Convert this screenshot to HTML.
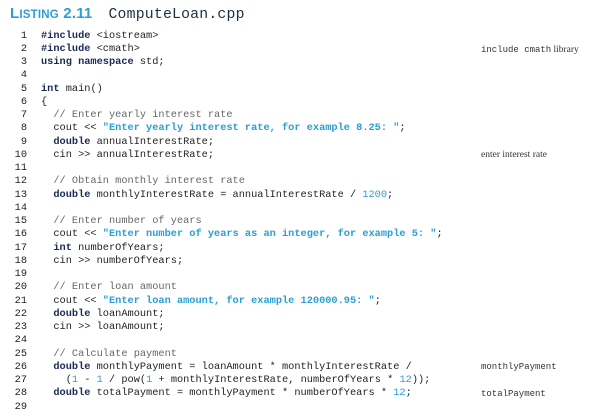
<!DOCTYPE html>
<html><head><meta charset="utf-8"><style>
html,body{margin:0;padding:0;background:#fff;}
body{width:602px;height:418px;position:relative;overflow:hidden;}
.t{position:absolute;left:10px;top:5px;font-family:"Liberation Sans",sans-serif;font-weight:bold;color:#2a9fd6;font-size:15px;letter-spacing:0.2px;white-space:nowrap;}
.t small{font-size:11.5px;}
.t .f{font-family:"Liberation Mono",monospace;font-weight:normal;color:#1e2f40;font-size:14.8px;margin-left:16px;}
.l{position:absolute;left:0;height:13px;line-height:13px;font-family:"Liberation Mono",monospace;font-size:10.3px;color:#222;white-space:pre;}
.n{display:inline-block;width:27px;text-align:right;margin-right:14px;color:#222;}
.k{font-weight:bold;color:#1b2a55;}
.s{font-weight:bold;color:#2a9fd6;}
.c{color:#666;}
.d{color:#2a9fd6;}
.a{position:absolute;left:481px;font-size:9px;color:#333;white-space:nowrap;line-height:13px;}
.am{font-family:"Liberation Mono",monospace;}
.as{font-family:"Liberation Serif",serif;font-size:9.5px;}
</style></head><body>
<div class="t">L<small>ISTING</small> 2.11<span class="f">ComputeLoan.cpp</span></div>

<div class="l" style="top:29.5px"><span class="n">1</span><span class="k">#include</span> &lt;iostream&gt;</div>
<div class="l" style="top:42.75px"><span class="n">2</span><span class="k">#include</span> &lt;cmath&gt;</div>
<div class="l" style="top:56px"><span class="n">3</span><span class="k">using namespace</span> std;</div>
<div class="l" style="top:69.25px"><span class="n">4</span></div>
<div class="l" style="top:82.5px"><span class="n">5</span><span class="k">int</span> main()</div>
<div class="l" style="top:95.75px"><span class="n">6</span>{</div>
<div class="l" style="top:109px"><span class="n">7</span>  <span class="c">// Enter yearly interest rate</span></div>
<div class="l" style="top:122.25px"><span class="n">8</span>  cout &lt;&lt; <span class="s">"Enter yearly interest rate, for example 8.25: "</span>;</div>
<div class="l" style="top:135.5px"><span class="n">9</span>  <span class="k">double</span> annualInterestRate;</div>
<div class="l" style="top:148.75px"><span class="n">10</span>  cin &gt;&gt; annualInterestRate;</div>
<div class="l" style="top:162px"><span class="n">11</span></div>
<div class="l" style="top:175.25px"><span class="n">12</span>  <span class="c">// Obtain monthly interest rate</span></div>
<div class="l" style="top:188.5px"><span class="n">13</span>  <span class="k">double</span> monthlyInterestRate = annualInterestRate / <span class="d">1200</span>;</div>
<div class="l" style="top:201.75px"><span class="n">14</span></div>
<div class="l" style="top:215px"><span class="n">15</span>  <span class="c">// Enter number of years</span></div>
<div class="l" style="top:228.25px"><span class="n">16</span>  cout &lt;&lt; <span class="s">"Enter number of years as an integer, for example 5: "</span>;</div>
<div class="l" style="top:241.5px"><span class="n">17</span>  <span class="k">int</span> numberOfYears;</div>
<div class="l" style="top:254.75px"><span class="n">18</span>  cin &gt;&gt; numberOfYears;</div>
<div class="l" style="top:268px"><span class="n">19</span></div>
<div class="l" style="top:281.25px"><span class="n">20</span>  <span class="c">// Enter loan amount</span></div>
<div class="l" style="top:294.5px"><span class="n">21</span>  cout &lt;&lt; <span class="s">"Enter loan amount, for example 120000.95: "</span>;</div>
<div class="l" style="top:307.75px"><span class="n">22</span>  <span class="k">double</span> loanAmount;</div>
<div class="l" style="top:321px"><span class="n">23</span>  cin &gt;&gt; loanAmount;</div>
<div class="l" style="top:334.25px"><span class="n">24</span></div>
<div class="l" style="top:347.5px"><span class="n">25</span>  <span class="c">// Calculate payment</span></div>
<div class="l" style="top:360.75px"><span class="n">26</span>  <span class="k">double</span> monthlyPayment = loanAmount * monthlyInterestRate /</div>
<div class="l" style="top:374px"><span class="n">27</span>    (<span class="d">1</span> - <span class="d">1</span> / pow(<span class="d">1</span> + monthlyInterestRate, numberOfYears * <span class="d">12</span>));</div>
<div class="l" style="top:387.25px"><span class="n">28</span>  <span class="k">double</span> totalPayment = monthlyPayment * numberOfYears * <span class="d">12</span>;</div>
<div class="l" style="top:400.5px"><span class="n">29</span></div>

<div class="a" style="top:43px"><span class="am">include cmath</span> <span class="as">library</span></div>
<div class="a as" style="top:149px">enter interest rate</div>
<div class="a am" style="top:361px">monthlyPayment</div>
<div class="a am" style="top:387.5px">totalPayment</div>
</body></html>
